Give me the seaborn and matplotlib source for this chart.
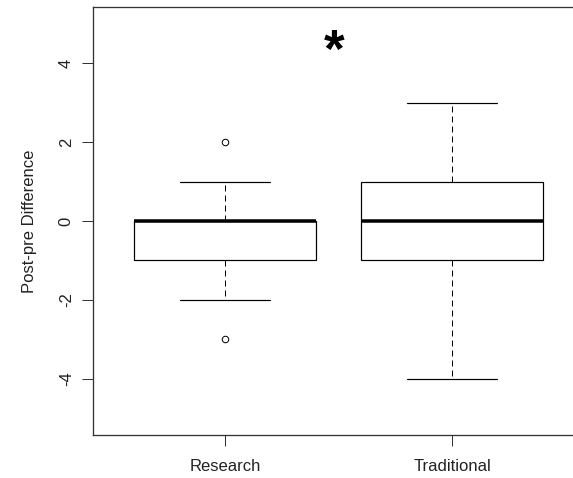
import numpy as np
import pandas as pd
import matplotlib
matplotlib.use("Agg")
import matplotlib.pyplot as plt
import seaborn as sns

# Post-pre score differences per group
groups = ["Research", "Traditional"]
research_diff = [-3, -2, -1, -1, -1, 0, 0, 0, 0, 0, 0, 1, 2]
traditional_diff = [-4, -3, -1, -1, -1, 0, 0, 0, 1, 1, 1, 2, 3]
y_ticks = [-4, -2, 0, 2, 4]
y_label = "Post-pre Difference"
marker_text = "*"

df = pd.DataFrame({
    "group": [groups[0]] * len(research_diff) + [groups[1]] * len(traditional_diff),
    "diff": research_diff + traditional_diff,
})

sns.set_style("white")
plt.rcParams["font.family"] = ["Liberation Sans", "DejaVu Sans"]

DPI = 100
W, H = 573, 478
fig = plt.figure(figsize=(W / DPI, H / DPI), dpi=DPI)
left, right = 93.3 / W, 583.7 / W
bottom, top = (H - 435) / H, (H - 7) / H
ax = fig.add_axes([left, bottom, right - left, top - bottom])

px = 72 / DPI  # one pixel in points
sns.boxplot(
    data=df, x="group", y="diff", order=groups, ax=ax,
    width=0.8, whis=1.5, color="white", linecolor="black",
    linewidth=1 * px,
    boxprops=dict(facecolor="white", edgecolor="black", linewidth=1.2 * px),
    medianprops=dict(color="black", linewidth=3.5 * px, solid_capstyle="butt"),
    whiskerprops=dict(color="black", linewidth=1 * px, linestyle=(0, (6, 4))),
    capprops=dict(color="black", linewidth=1.2 * px),
    flierprops=dict(marker="o", markersize=6.5 * px, markerfacecolor="none",
                    markeredgecolor="black", markeredgewidth=1 * px),
)

ax.set_xlim(-0.58, 1.58)
ax.set_ylim(-5.42, 5.42)
ax.set_yticks(y_ticks)
ax.set_yticklabels([str(v) for v in y_ticks], rotation=90, va="center")
ax.set_xlabel("")
ax.set_ylabel(y_label, fontsize=12, color="#222222", labelpad=16)

ax.tick_params(axis="both", which="both", direction="out", length=8,
               width=1 * px, color="#333333", labelsize=12,
               labelcolor="#222222", left=True, bottom=True)
ax.tick_params(axis="y", pad=6)
ax.tick_params(axis="x", pad=9)
for s in ax.spines.values():
    s.set_visible(True)
    s.set_color("#333333")
    s.set_linewidth(1.3 * px)

ax.text(0.48, 4.25, marker_text, ha="center", va="center",
        fontsize=38, fontweight="bold", color="black")

fig.savefig("out.png", dpi=DPI)
